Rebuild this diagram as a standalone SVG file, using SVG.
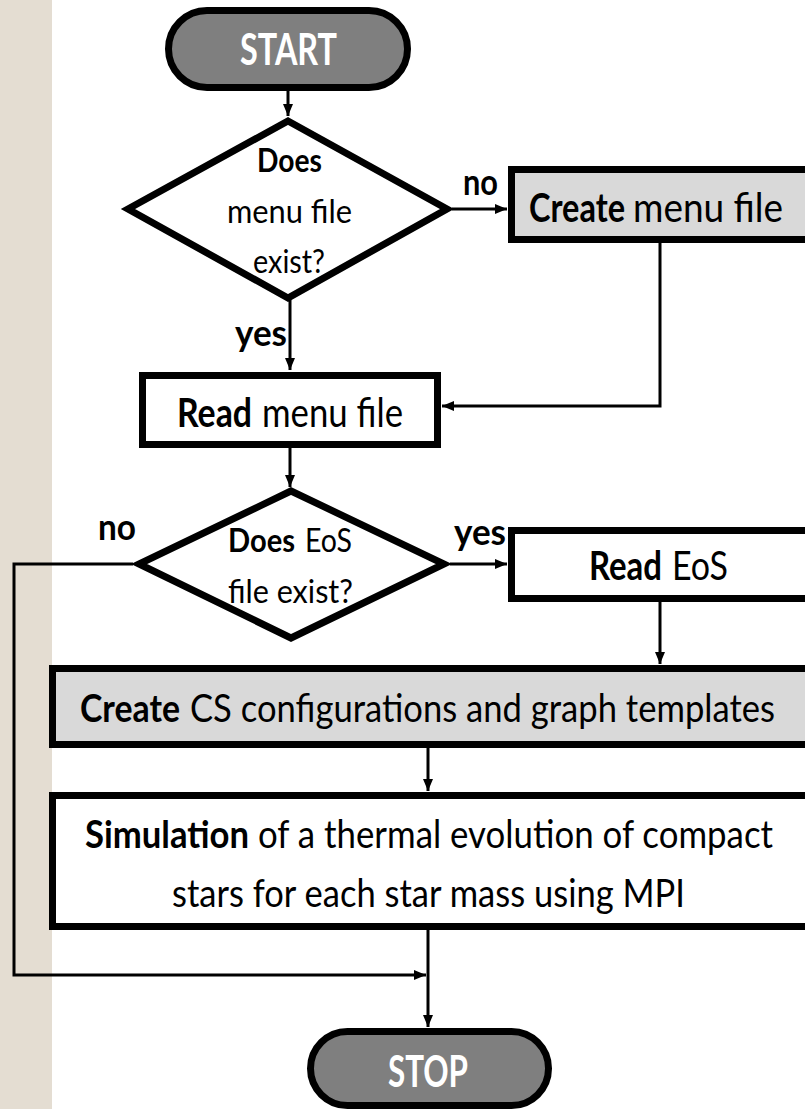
<svg xmlns="http://www.w3.org/2000/svg" width="805" height="1109" viewBox="0 0 805 1109">
<style>
.box{stroke:#000;stroke-width:7;stroke-linejoin:miter}
.white{fill:#fff}
.gray{fill:#d9d9d9}
.pill{fill:#7f7f7f;stroke:#000;stroke-width:7}
.t{font-family:Lato,"Liberation Sans",sans-serif;fill:#000}
.pt{font-family:Lato,"Liberation Sans",sans-serif;fill:#fff;font-weight:bold;font-size:43px}
.b{font-weight:bold}
.bt{font-size:41px}
.dt{font-size:32px}
.lb{font-size:36px;font-weight:bold}
.c{fill:none;stroke:#000;stroke-width:3}
</style>
<defs>
<marker id="ah" markerUnits="userSpaceOnUse" markerWidth="13" markerHeight="11" refX="12" refY="5" orient="auto">
<path d="M0,0 L12,5 L0,10 z" fill="#000"/>
</marker>
</defs>
<rect x="0" y="0" width="805" height="1109" fill="#fff"/>
<rect x="0" y="0" width="52" height="1109" fill="#e4ddd2"/>

<g id="connectors">
<line class="c" x1="288" y1="91" x2="288" y2="116" marker-end="url(#ah)"/>
<line class="c" x1="452" y1="209" x2="507" y2="209" marker-end="url(#ah)"/>
<path class="c" d="M660,243 L660,406 L442,406" marker-end="url(#ah)"/>
<line class="c" x1="290" y1="300" x2="290" y2="370" marker-end="url(#ah)"/>
<line class="c" x1="290" y1="448" x2="290" y2="487" marker-end="url(#ah)"/>
<line class="c" x1="450" y1="564" x2="507" y2="564" marker-end="url(#ah)"/>
<line class="c" x1="660" y1="602" x2="660" y2="664" marker-end="url(#ah)"/>
<line class="c" x1="428" y1="748" x2="428" y2="791" marker-end="url(#ah)"/>
<line class="c" x1="428" y1="930" x2="428" y2="1027" marker-end="url(#ah)"/>
<path class="c" d="M133,564 L14,564 L14,975 L426,975" marker-end="url(#ah)"/>
<text class="t lb" x="463" y="195" textLength="35" lengthAdjust="spacingAndGlyphs">no</text>
<text class="t lb" x="235" y="346" textLength="52" lengthAdjust="spacingAndGlyphs">yes</text>
<text class="t lb" x="98" y="540" textLength="38" lengthAdjust="spacingAndGlyphs">no</text>
<text class="t lb" x="454" y="545" textLength="52" lengthAdjust="spacingAndGlyphs">yes</text>
</g>

<g id="start">
<rect class="pill" x="168.5" y="10.5" width="239" height="77" rx="38.5"/>
<text class="pt" x="240" y="65" textLength="97" lengthAdjust="spacingAndGlyphs">START</text>
</g>

<g id="decision-menu">
<polygon class="box white" points="288,121 447,209 288,298 128,209"/>
<text class="t dt b" x="257" y="172" textLength="65" lengthAdjust="spacingAndGlyphs">Does</text>
<text class="t dt" x="227" y="223" textLength="125" lengthAdjust="spacingAndGlyphs">menu file</text>
<text class="t dt" x="253" y="273" textLength="72" lengthAdjust="spacingAndGlyphs">exist?</text>
</g>

<g id="create-menu">
<rect class="box gray" x="511.5" y="169.5" width="300" height="70"/>
<text class="t bt b" x="529" y="222" textLength="96" lengthAdjust="spacingAndGlyphs">Create</text>
<text class="t bt" x="633" y="222" textLength="150" lengthAdjust="spacingAndGlyphs">menu file</text>
</g>

<g id="read-menu">
<rect class="box white" x="142.5" y="375.5" width="295" height="69"/>
<text class="t bt b" x="177" y="427" textLength="75" lengthAdjust="spacingAndGlyphs">Read</text>
<text class="t bt" x="262" y="427" textLength="141" lengthAdjust="spacingAndGlyphs">menu file</text>
</g>

<g id="decision-eos">
<polygon class="box white" points="291,491 444,564 291,638 139,564"/>
<text class="t dt b" x="228" y="552" textLength="67" lengthAdjust="spacingAndGlyphs">Does</text>
<text class="t dt" x="305" y="552" textLength="47" lengthAdjust="spacingAndGlyphs">EoS</text>
<text class="t dt" x="228" y="603" textLength="125" lengthAdjust="spacingAndGlyphs">file exist?</text>
</g>

<g id="read-eos">
<rect class="box white" x="511.5" y="530.5" width="300" height="68"/>
<text class="t bt b" x="589" y="580" textLength="73" lengthAdjust="spacingAndGlyphs">Read</text>
<text class="t bt" x="672" y="580" textLength="56" lengthAdjust="spacingAndGlyphs">EoS</text>
</g>

<g id="create-cs">
<rect class="box gray" x="52.5" y="668.5" width="760" height="76"/>
<text class="t b" font-size="39" x="80" y="722" textLength="100" lengthAdjust="spacingAndGlyphs">Create</text>
<text class="t" font-size="39" x="190" y="722" textLength="585" lengthAdjust="spacingAndGlyphs">CS configurations and graph templates</text>
</g>

<g id="simulation">
<rect class="box white" x="52.5" y="795.5" width="760" height="131"/>
<text class="t b" font-size="38" x="85" y="848" textLength="164" lengthAdjust="spacingAndGlyphs">Simulation</text>
<text class="t" font-size="38" x="258" y="848" textLength="515" lengthAdjust="spacingAndGlyphs">of a thermal evolution of compact</text>
<text class="t" font-size="38" x="172" y="907" textLength="513" lengthAdjust="spacingAndGlyphs">stars for each star mass using MPI</text>
</g>

<g id="stop">
<rect class="pill" x="310.5" y="1031.5" width="238" height="74" rx="37"/>
<text class="pt" font-size="44" x="388" y="1087" textLength="80" lengthAdjust="spacingAndGlyphs">STOP</text>
</g>
</svg>
